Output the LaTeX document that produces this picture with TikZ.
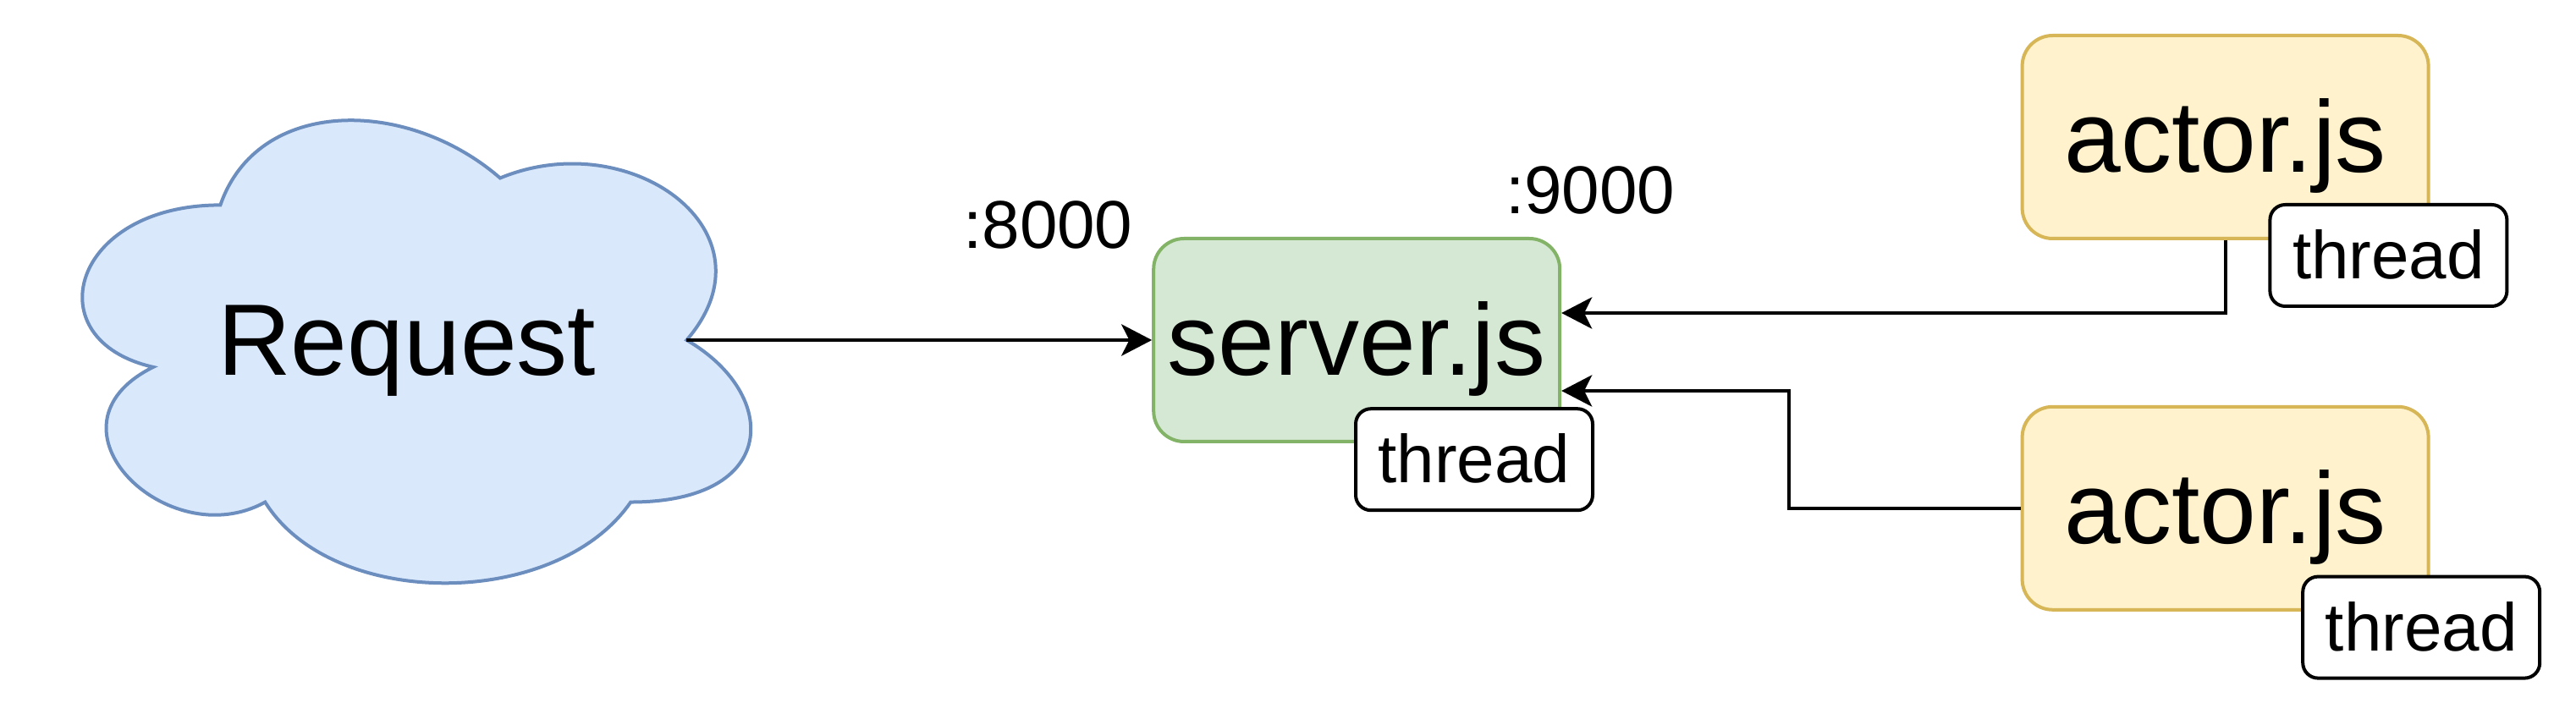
\documentclass[tikz,border=0pt]{standalone}
\usepackage{fontspec}
\setmainfont{Liberation Sans}
\usetikzlibrary{arrows.meta}
\definecolor{cloudfill}{HTML}{DAE8FC}
\definecolor{clouddraw}{HTML}{6C8EBF}
\definecolor{srvfill}{HTML}{D5E8D4}
\definecolor{srvdraw}{HTML}{82B366}
\definecolor{actfill}{HTML}{FFF2CC}
\definecolor{actdraw}{HTML}{D6B656}
\begin{document}
\begin{tikzpicture}[x=1pt,y=-1pt,
  bigtext/.style={font=\fontsize{30}{36}\selectfont, text height=27.15pt, text depth=6.36pt},
  smalltext/.style={font=\fontsize{20}{24}\selectfont, text height=18.1pt, text depth=4.24pt},
  srvbox/.style={draw=srvdraw, fill=srvfill, line width=1pt, rounded corners=9pt, minimum width=120pt, minimum height=60pt, inner sep=0pt, bigtext},
  actbox/.style={srvbox, draw=actdraw, fill=actfill},
  threadbox/.style={draw=black, fill=white, line width=1pt, rounded corners=4.5pt, minimum width=70pt, minimum height=30pt, inner sep=0pt, smalltext},
  conn/.style={line width=1pt, -{Stealth[length=9pt,width=9.3pt,inset=2.3pt]}}
]
\useasboundingbox (0,0) rectangle (761,211);
% cloud
\begin{scope}[shift={(10,20.7)}, x=220.4pt, y=-159.6pt]
\draw[draw=clouddraw, fill=cloudfill, line width=1pt]
  (0.25,0.25) .. controls (0.05,0.25) and (0,0.5) .. (0.16,0.55)
  .. controls (0,0.66) and (0.18,0.9) .. (0.31,0.8)
  .. controls (0.4,1) and (0.7,1) .. (0.8,0.8)
  .. controls (1,0.8) and (1,0.6) .. (0.875,0.5)
  .. controls (1,0.3) and (0.8,0.1) .. (0.625,0.2)
  .. controls (0.5,0.05) and (0.3,0.05) .. (0.25,0.25) -- cycle;
\coordinate (reqout) at (0.875,0.5);
\node[bigtext, inner sep=0pt] (request) at (0.5,0.5) {Request};
\end{scope}
% server
\node[srvbox] (server) at (400.8,100.5) {server.js};
\node[threadbox] (sthread) at (435.5,135.8) {thread};
% actors
\node[actbox] (act1) at (657.4,40.5) {actor.js};
\node[threadbox] (athread1) at (705.6,75.5) {thread};
\node[actbox] (act2) at (657.4,150.2) {actor.js};
\node[threadbox] (athread2) at (715.3,185.4) {thread};
% labels
\node[smalltext] (p8000) at (309.6,66.5) {:8000};
\node[smalltext] (p9000) at (469.8,56.3) {:9000};
% connectors
\draw[conn] (reqout) -- (reqout -| server.west);
\draw[conn] (act1.south) |- ([yshift=8pt]server.east);
\draw[conn] (act2.west) -- ++(-68.4,0) |- ([yshift=-15pt]server.east);
\end{tikzpicture}
\end{document}
